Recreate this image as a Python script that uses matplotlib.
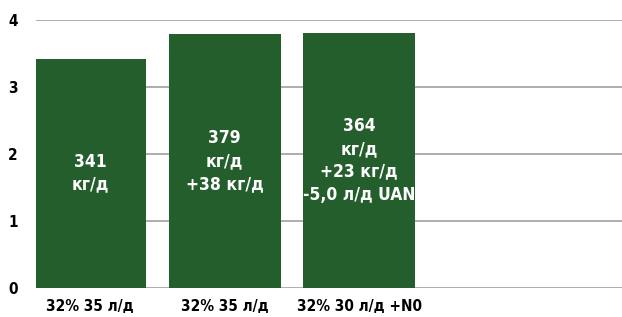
import matplotlib
matplotlib.use("Agg")
import matplotlib.pyplot as plt
import numpy as np

categories = ["32% 35 л/д", "32% 35 л/д", "32% 30 л/д +N0"]
values = [3.42, 3.79, 3.81]
bar_labels = ["341\nкг/д", "379\nкг/д\n+38 кг/д", "364\nкг/д\n+23 кг/д\n-5,0 л/д UAN"]
yticks = [0, 1, 2, 3, 4]

plt.rcParams['font.family'] = ['DejaVu Sans']
plt.rcParams['font.stretch'] = 'condensed'

fig = plt.figure(figsize=(6.22, 3.17), dpi=100)
ax = fig.add_axes([36/622, 1 - 287.7/317, 1 - 36/622, (287.7 - 20) / 317])

x = np.arange(len(categories))
color = "#245E2C"
bars = ax.bar(x, values, width=0.83, color=color, zorder=3)
for xi, v, lab in zip(x, values, bar_labels):
    ax.text(xi, v / 2, lab, ha="center", va="center", color="white",
            fontsize=12.5, fontweight="bold", fontstretch="condensed",
            linespacing=1.35, zorder=4)

ax.set_xlim(-0.4, 3.95)
ax.set_ylim(0, 4)
ax.set_yticks(yticks)
ax.set_yticklabels([str(t) for t in yticks], fontsize=11, fontweight="bold",
                   fontstretch="condensed")
ax.set_xticks(x)
ax.set_xticklabels(categories, fontsize=11, fontweight="bold", fontstretch="condensed")
ax.tick_params(axis="both", length=0)
ax.tick_params(axis="y", pad=13)
ax.tick_params(axis="x", pad=8)
ax.grid(axis="y", color="#a0a0a0", linewidth=1.2, zorder=0)
for s in ax.spines.values():
    s.set_visible(False)

fig.savefig("out.png", dpi=100)
